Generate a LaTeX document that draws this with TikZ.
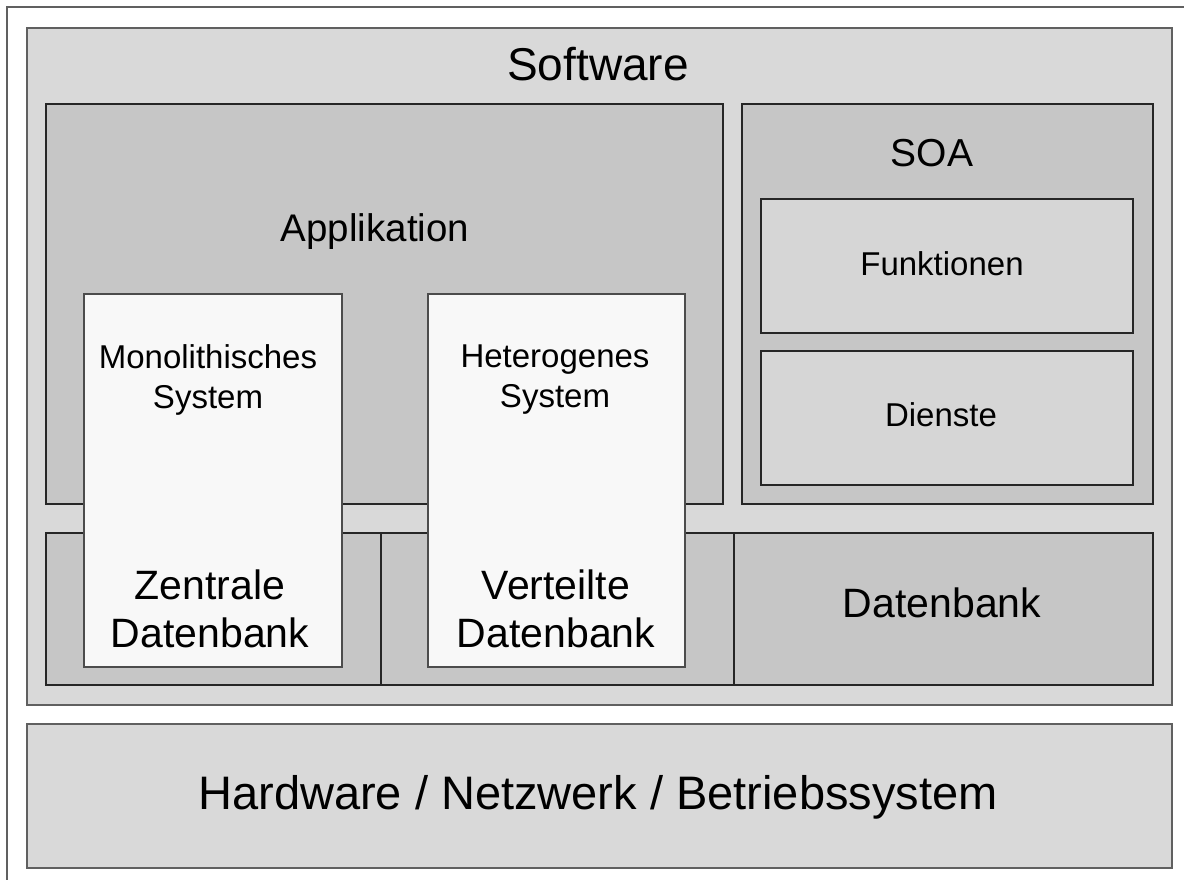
\documentclass[tikz,border=0pt]{standalone}
\usepackage{fontspec}
\setmainfont{Liberation Sans}
\definecolor{bgA}{HTML}{D9D9D9}
\definecolor{bgB}{HTML}{C6C6C6}
\definecolor{bgC}{HTML}{D6D6D6}
\definecolor{bgW}{HTML}{F8F8F8}
\definecolor{edgeG}{HTML}{606060}
\tikzset{
  outerbox/.style={draw=edgeG, line width=2pt, fill=bgA, anchor=north west, inner sep=0pt},
  innerbox/.style={draw=black!85, line width=1.6pt, fill=bgB, anchor=north west, inner sep=0pt},
  lightbox/.style={draw=black!85, line width=1.6pt, fill=bgC, anchor=north west, inner sep=0pt},
  whitebox/.style={draw=black!70, line width=1.6pt, fill=bgW, anchor=north west, inner sep=0pt},
  lbl/.style={inner sep=0pt, align=center, text=black},
}
\newcommand{\sz}[2]{\fontsize{#1}{#2}\selectfont}
\begin{document}
\begin{tikzpicture}[x=1pt,y=-1pt]
\useasboundingbox (0,0) rectangle (1184,880);
\fill[white] (0,0) rectangle (1184,880);
% outer frame (only left and top edge visible)
\draw[edgeG, line width=2pt] (7,890) -- (7,7) -- (1194,7);
% Software
\node[outerbox, minimum width=1145pt, minimum height=677pt] (sw) at (26,27) {};
\node[lbl, font=\sz{46}{50}] (swt) at (598,64) {Software};
% Applikation
\node[innerbox, minimum width=677pt, minimum height=400pt] (app) at (45,103) {};
\node[lbl, font=\sz{38.5}{42}] (appt) at (375,232) {Applikation};
% SOA
\node[innerbox, minimum width=411pt, minimum height=400pt] (soa) at (741,103) {};
\node[lbl, font=\sz{39}{42}] (soat) at (932,153) {SOA};
\node[lightbox, minimum width=372pt, minimum height=134pt] (fk) at (760,198) {};
\node[lbl, font=\sz{33}{36}] (fkt) at (942,264) {Funktionen};
\node[lightbox, minimum width=372pt, minimum height=134pt] (di) at (760,350) {};
\node[lbl, font=\sz{33}{36}] (dit) at (941,415) {Dienste};
% Datenbank row
\node[innerbox, minimum width=335pt, minimum height=152pt] (db1) at (45,532) {};
\node[innerbox, minimum width=353pt, minimum height=152pt] (db2) at (380,532) {};
\node[innerbox, minimum width=419pt, minimum height=152pt] (db3) at (733,532) {};
\node[lbl, font=\sz{41}{46}] (db3t) at (942,603) {Datenbank};
% white columns
\node[whitebox, minimum width=258pt, minimum height=373pt] (mono) at (83,293) {};
\node[lbl, font=\sz{33}{40}] (monot) at (208,380) {Monolithisches\\System};
\node[lbl, font=\sz{41}{48}] (zdb) at (210,609) {Zentrale\\Datenbank};
\node[whitebox, minimum width=257pt, minimum height=373pt] (het) at (427,293) {};
\node[lbl, font=\sz{33}{40}] (hett) at (555,380) {Heterogenes\\System};
\node[lbl, font=\sz{41}{48}] (vdb) at (556,609) {Verteilte\\Datenbank};
% Hardware
\node[outerbox, minimum width=1145pt, minimum height=144pt] (hw) at (26,723) {};
\node[lbl, font=\sz{47}{52}] (hwt) at (598,797) {Hardware / Netzwerk / Betriebssystem};
\end{tikzpicture}
\end{document}
